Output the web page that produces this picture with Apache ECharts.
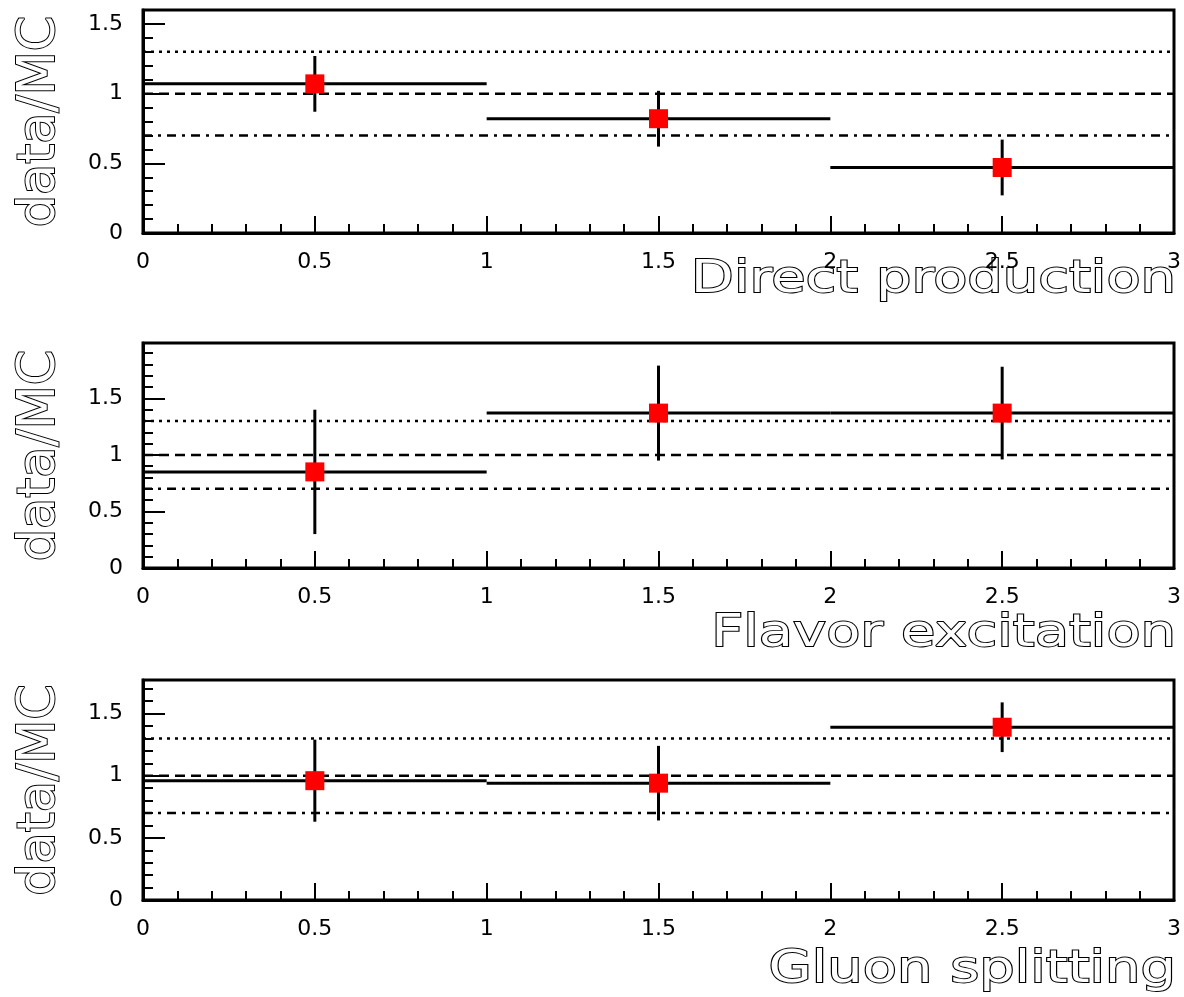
<!DOCTYPE html>
<html>
<head>
<meta charset="utf-8">
<title>data/MC</title>
<script src="https://cdn.jsdelivr.net/npm/echarts@6/dist/echarts.min.js"></script>
<style>
  html, body { margin: 0; padding: 0; background: #fff; }
  #chart { width: 1184px; height: 997px; }
</style>
</head>
<body>
<div id="chart"></div>
<script>
// bins (x ranges) shared by the three panels
var binLow = [0, 1, 2];
var binHigh = [1, 2, 3];
var binCenter = [0.5, 1.5, 2.5];

// data/MC ratio and errors, one pair of arrays per panel
var directVals = [1.07, 0.82, 0.47];
var directErrs = [0.20, 0.20, 0.20];
var flavorVals = [0.85, 1.37, 1.37];
var flavorErrs = [0.55, 0.42, 0.41];
var gluonVals = [0.96, 0.94, 1.39];
var gluonErrs = [0.33, 0.30, 0.20];

var panelTitles = ["Direct production", "Flavor excitation", "Gluon splitting"];
var yMax = [1.6, 1.99, 1.77];

// reference lines: dotted, dashed, dash-dot
var refValues = [1.3, 1.0, 0.7];

var panels = [
  { vals: directVals, errs: directErrs },
  { vals: flavorVals, errs: flavorErrs },
  { vals: gluonVals, errs: gluonErrs }
];

// layout
var gridTops = [10, 343, 680];
var gridHeights = [223, 225, 220];
var titleY = [281, 635, 971];
var refStyles = [[3, 5], [10, 6], [9, 6, 3, 6]];

var font = "DejaVu Sans";

function renderBin(params, api) {
  var lo = api.value(0), hi = api.value(1), c = api.value(2);
  var y = api.value(3), e = api.value(4);
  var a = api.coord([lo, y]);
  var b = api.coord([hi, y]);
  var t = api.coord([c, y + e]);
  var d = api.coord([c, y - e]);
  return {
    type: "group",
    children: [
      { type: "line", shape: { x1: a[0], y1: a[1], x2: b[0], y2: b[1] }, style: { stroke: "#000", lineWidth: 3 } },
      { type: "line", shape: { x1: t[0], y1: t[1], x2: d[0], y2: d[1] }, style: { stroke: "#000", lineWidth: 3 } }
    ]
  };
}

var grids = [], xAxes = [], yAxes = [], series = [];

panels.forEach(function (p, i) {
  grids.push({
    left: 143, right: 6, top: gridTops[i], height: gridHeights[i],
    show: true, borderColor: "#000", borderWidth: 3, backgroundColor: "transparent"
  });
  xAxes.push({
    gridIndex: i, type: "value", min: 0, max: 3, interval: 0.5,
    axisLine: { show: true, onZero: false, lineStyle: { color: "#000", width: 3 } },
    axisTick: { show: true, inside: true, length: 17, lineStyle: { color: "#000", width: 2 } },
    minorTick: { show: true, splitNumber: 5, length: 9, lineStyle: { color: "#000", width: 2 } },
    axisLabel: { color: "#000", fontSize: 22, fontFamily: font, margin: 18 },
    splitLine: { show: false }
  });
  yAxes.push({
    gridIndex: i, type: "value", min: 0, max: yMax[i], interval: 0.5,
    name: "data/MC", nameLocation: "middle", nameRotate: 90, nameGap: 77,
    nameTextStyle: { fontSize: 51, fontFamily: font, color: "#fff", textBorderColor: "#000", textBorderWidth: 2 },
    axisLine: { show: true, onZero: false, lineStyle: { color: "#000", width: 3 } },
    axisTick: { show: true, inside: true, length: 22, lineStyle: { color: "#000", width: 2 } },
    minorTick: { show: true, splitNumber: 5, length: 10, lineStyle: { color: "#000", width: 2 } },
    axisLabel: { color: "#000", fontSize: 22, fontFamily: font, margin: 20, showMaxLabel: false },
    splitLine: { show: false }
  });

  refValues.forEach(function (v, k) {
    series.push({
      type: "line", xAxisIndex: i, yAxisIndex: i, silent: true, symbol: "none", z: 1,
      data: [[0, v], [3, v]],
      lineStyle: { color: "#000", width: 2.5, type: refStyles[k] }
    });
  });

  var binData = binLow.map(function (lo, j) {
    return [lo, binHigh[j], binCenter[j], p.vals[j], p.errs[j]];
  });
  series.push({
    type: "custom", xAxisIndex: i, yAxisIndex: i, silent: true, z: 2,
    renderItem: renderBin,
    encode: { x: [0, 1, 2], y: [3] },
    data: binData
  });

  series.push({
    type: "scatter", xAxisIndex: i, yAxisIndex: i, silent: true, z: 3,
    symbol: "rect", symbolSize: 19,
    itemStyle: { color: "#ff0000", opacity: 1 },
    data: binCenter.map(function (c, j) { return [c, p.vals[j]]; })
  });
});

var chart = echarts.init(document.getElementById("chart"));
chart.setOption({
  animation: false,
  backgroundColor: "#fff",
  grid: grids,
  xAxis: xAxes,
  yAxis: yAxes,
  series: series,
  graphic: panelTitles.map(function (t, i) {
    return {
      type: "text", x: 1176, y: titleY[i], scaleX: 1.27, silent: true,
      style: {
        text: t, font: '44px "DejaVu Sans"', fill: "#fff", stroke: "#000", lineWidth: 1.9,
        align: "right", verticalAlign: "middle", textAlign: "right", textVerticalAlign: "middle"
      }
    };
  })
});
</script>
</body>
</html>
